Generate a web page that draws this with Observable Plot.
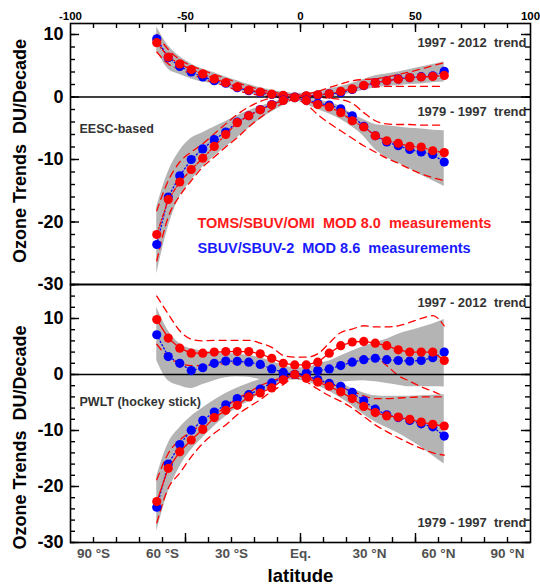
<!DOCTYPE html>
<html><head><meta charset="utf-8">
<script src="https://cdn.jsdelivr.net/npm/d3@7"></script>
<script src="https://cdn.jsdelivr.net/npm/@observablehq/plot@0.6"></script>
<style>
body{margin:0;background:#fff;}
#wrap{position:relative;width:540px;height:585px;}
#wrap svg{position:absolute;left:0;top:0;}
</style></head><body><div id="wrap"></div>
<script>
// ---------- data ----------
const lat = [-62.5,-57.5,-52.5,-47.5,-42.5,-37.5,-32.5,-27.5,-22.5,-17.5,-12.5,-7.5,-2.5,2.5,7.5,12.5,17.5,22.5,27.5,32.5,37.5,42.5,47.5,52.5,57.5,62.5];

// EESC-based panel, 1997-2012 trend
const eescPosToms   = [8.7,6.4,5.3,4.4,3.7,2.9,2.3,1.6,1.1,0.8,0.45,0.25,0.0,0.2,0.35,0.5,0.9,1.3,1.85,2.3,2.6,2.85,3.1,3.2,3.3,3.45];
const eescPosSbuv   = [9.3,6.3,4.9,4.0,3.2,2.6,2.2,1.5,1.0,0.7,0.4,0.2,0.0,0.15,0.3,0.5,0.7,1.2,1.8,2.3,2.6,2.9,3.1,3.25,3.4,4.1];
const eescPosRedHi  = [10.0,7.6,6.0,5.0,4.3,3.6,3.0,2.3,1.7,1.2,0.8,0.5,0.3,0.5,0.9,1.5,2.1,2.6,2.8,2.9,3.2,3.6,4.0,4.5,5.0,5.5];
const eescPosRedLo  = [7.2,5.3,4.4,3.7,2.9,2.3,1.8,1.0,0.6,0.25,0.0,-0.2,-0.3,-0.2,-0.1,0.1,0.5,1.2,1.5,1.6,1.7,1.7,1.7,1.7,1.7,1.7];
const eescPosGrayHi = [11.2,8.2,6.5,5.3,4.5,3.9,3.2,2.6,2.0,1.5,1.1,0.8,0.6,0.6,0.9,1.3,1.7,2.2,2.8,3.4,3.7,4.0,4.4,4.8,5.2,5.6];
const eescPosGrayLo = [7.4,4.5,3.6,2.9,2.4,2.1,1.6,1.0,0.6,0.2,0.0,-0.2,-0.4,-0.5,-0.3,0.0,0.3,0.6,1.1,1.5,1.7,1.8,2.0,2.1,2.3,2.4];
// EESC-based panel, 1979-1997 trend
const eescNegToms   = [-22.0,-16.4,-13.6,-11.6,-9.8,-7.9,-6.0,-4.1,-3.0,-2.05,-1.25,-0.55,-0.1,-0.55,-1.2,-1.6,-2.5,-3.8,-4.8,-6.2,-7.0,-7.4,-7.9,-8.0,-8.6,-8.9];
const eescNegSbuv   = [-23.6,-16.0,-12.6,-10.0,-8.3,-6.8,-5.6,-4.0,-3.0,-2.0,-1.2,-0.5,-0.1,-0.5,-1.0,-1.3,-1.9,-3.0,-4.7,-6.2,-7.2,-7.8,-8.4,-8.8,-9.2,-10.4];
const eescNegRedHi  = [-18.2,-13.4,-10.4,-8.8,-7.5,-5.9,-4.3,-2.8,-1.6,-0.7,-0.1,0.3,0.4,0.2,0.0,-0.2,-0.4,-1.0,-2.5,-3.8,-4.3,-4.4,-4.4,-4.5,-4.5,-4.5];
const eescNegRedLo  = [-26.2,-19.2,-15.8,-13.4,-11.2,-9.6,-8.0,-6.5,-4.8,-3.3,-2.0,-1.0,-0.4,-1.2,-2.8,-4.2,-5.4,-6.6,-7.8,-8.8,-9.8,-10.6,-11.5,-12.3,-12.9,-13.4];
const eescNegGrayHi = [-17.6,-12.0,-8.6,-6.6,-5.7,-4.8,-3.9,-3.0,-2.2,-1.5,-0.9,-0.3,0.6,0.3,-0.4,-0.9,-1.5,-2.7,-3.6,-4.4,-4.6,-4.8,-5.0,-5.1,-5.3,-5.4];
const eescNegGrayLo = [-28.3,-20.8,-16.0,-13.4,-11.2,-9.5,-8.0,-6.5,-5.0,-3.6,-2.4,-1.4,-0.6,-1.2,-2.0,-2.7,-3.6,-4.8,-6.3,-8.4,-9.7,-10.6,-11.5,-12.5,-13.4,-14.3];

// PWLT panel, 1997-2012 trend
const pwltPosToms   = [9.8,6.5,4.7,3.8,3.8,4.0,4.1,4.1,4.1,3.7,2.9,2.0,1.7,1.7,2.2,3.8,5.15,5.8,5.9,5.6,5.15,4.4,4.0,4.0,4.0,2.5];
const pwltPosSbuv   = [7.1,3.2,2.0,0.7,1.2,2.0,2.4,2.35,2.2,1.8,1.0,0.4,0.0,0.25,0.7,1.0,1.6,2.2,2.65,2.9,2.65,2.5,2.4,2.5,3.0,4.0];
const pwltPosRedHi  = [14.0,10.8,7.8,6.3,6.0,6.1,6.1,6.1,6.1,5.6,4.85,3.4,3.1,3.1,3.7,5.6,7.5,8.1,8.7,8.5,8.5,8.7,9.3,10.0,10.5,8.7];
const pwltPosRedLo  = [5.4,3.1,2.0,1.6,1.6,1.9,1.9,2.1,2.0,1.4,0.6,0.0,-0.3,-0.3,0.0,1.0,2.0,2.6,3.0,3.0,1.6,-0.2,-1.2,-2.2,-3.0,-4.0];
const pwltPosGrayHi = [12.0,7.8,5.5,4.6,4.2,4.0,3.8,3.6,3.4,3.0,2.3,1.6,1.2,1.2,1.9,2.4,3.3,4.2,5.0,5.7,6.3,7.2,7.8,8.4,9.0,9.8];
const pwltPosGrayLo = [2.5,-1.1,-2.0,-2.5,-1.8,-1.1,-0.6,-0.4,-0.5,-0.9,-1.1,-1.1,-1.0,-1.2,-1.4,-1.6,-1.4,-1.2,-1.1,-1.3,-1.6,-1.9,-2.2,-2.2,-2.2,-2.25];
// PWLT panel, 1979-1997 trend
const pwltNegToms   = [-22.7,-16.75,-13.8,-11.7,-9.8,-7.7,-6.4,-5.5,-4.0,-3.3,-2.4,-0.95,0.0,-0.65,-1.35,-2.1,-3.1,-4.3,-5.7,-6.8,-7.4,-7.6,-8.0,-8.5,-8.9,-9.2];
const pwltNegSbuv   = [-23.7,-16.0,-12.5,-9.95,-8.2,-6.7,-5.4,-4.3,-3.6,-2.6,-1.5,-0.6,0.0,-0.2,-0.9,-1.6,-2.1,-3.2,-4.7,-6.2,-7.2,-7.7,-8.2,-8.8,-9.35,-11.0];
const pwltNegRedHi  = [-18.8,-14.1,-11.7,-10.2,-8.8,-7.2,-5.8,-4.3,-3.2,-2.0,-1.2,-0.5,0.2,-0.3,-1.0,-1.6,-2.3,-3.0,-3.8,-4.3,-4.3,-4.2,-4.1,-4.0,-4.0,-4.0];
const pwltNegRedLo  = [-26.5,-20.3,-17.6,-14.7,-12.3,-10.5,-9.0,-7.2,-5.8,-4.5,-3.0,-1.8,-0.6,-1.3,-2.6,-3.8,-4.8,-6.0,-7.5,-9.0,-10.2,-11.3,-12.3,-13.2,-14.0,-14.4];
const pwltNegGrayHi = [-18.2,-12.3,-9.5,-7.5,-6.0,-4.6,-3.4,-2.4,-1.6,-0.9,-0.4,0.1,0.5,0.2,-0.3,-0.8,-1.5,-2.5,-3.3,-3.8,-3.9,-3.9,-3.9,-3.8,-3.7,-3.6];
const pwltNegGrayLo = [-28.0,-21.0,-16.5,-13.5,-11.3,-9.3,-7.5,-6.0,-4.8,-3.5,-2.3,-1.3,-0.5,-1.2,-2.0,-3.0,-4.2,-5.6,-7.2,-8.5,-9.5,-10.5,-11.7,-13.0,-14.5,-16.0];

// axes
const topTicks = [-100,-50,0,50,100];
const latTicks = [-90,-60,-30,0,30,60,90];
const latTickLabels = ["90 °S","60 °S","30 °S","Eq.","30 °N","60 °N","90 °N"];
const yTicks = [-30,-20,-10,0,10];

// texts
const yTitle = "Ozone Trends  DU/Decade";
const xTitle = "latitude";
const trendRecent = "1997 - 2012  trend";
const trendEarly = "1979 - 1997  trend";
const panelNames = ["EESC-based", "PWLT (hockey stick)"];
const legendToms = "TOMS/SBUV/OMI  MOD 8.0  measurements";
const legendSbuv = "SBUV/SBUV-2  MOD 8.6  measurements";

// ---------- drawing ----------
const FONT = "'Liberation Sans', Arial, Helvetica, sans-serif";
const RED = "#ff0000", BLUE = "#0000ff", GRAY = "#b4b4b4";
const W = 540, H = 585;
const ML = 70, MR = 10, FW = W - ML - MR;
const X_DOMAIN = [-100, 100];

function rows(toms, sbuv, rhi, rlo, ghi, glo) {
  return lat.map((l, i) => ({lat: l, toms: toms[i], sbuv: sbuv[i], rhi: rhi[i], rlo: rlo[i], ghi: ghi[i], glo: glo[i]}));
}

function seriesMarks(data) {
  return [
    Plot.areaY(data, {x: "lat", y1: "glo", y2: "ghi", fill: GRAY, curve: "monotone-x"}),
    Plot.line(data, {x: "lat", y: "rhi", stroke: RED, strokeWidth: 1.3, strokeDasharray: "7,5", curve: "monotone-x"}),
    Plot.line(data, {x: "lat", y: "rlo", stroke: RED, strokeWidth: 1.3, strokeDasharray: "7,5", curve: "monotone-x"})
  ];
}
function pointMarks(data, redDash) {
  return [
    Plot.line(data, {x: "lat", y: "sbuv", stroke: BLUE, strokeWidth: 1.3, strokeDasharray: "1.2,2.5"}),
    Plot.dot(data, {x: "lat", y: "sbuv", r: 4.6, fill: BLUE}),
    Plot.line(data, {x: "lat", y: "toms", stroke: RED, strokeWidth: 1.3, strokeDasharray: redDash}),
    Plot.dot(data, {x: "lat", y: "toms", r: 4.6, fill: RED})
  ];
}

function frameAxes(yDomain, isTop, FH) {
  const yMin = Math.ceil(yDomain[0]/2)*2, yMax = Math.floor(yDomain[1]/2)*2;
  const yMinor = d3.range(yMin, yMax + 0.1, 2);
  const yMajor = yTicks.filter(t => t >= yDomain[0] && t <= yDomain[1]);
  const xMinor = d3.range(-90, 90.1, 10);
  const xMajor = [-50, 0, 50];
  // tick lengths expressed in scale units (pixels -> data units)
  const ux = (X_DOMAIN[1] - X_DOMAIN[0]) / FW;
  const uy = (yDomain[1] - yDomain[0]) / FH;
  const tk = {stroke: "black", strokeWidth: 1.4};
  const [x0, x1] = X_DOMAIN;
  const yEdge = isTop ? yDomain[1] : yDomain[0];
  const ySign = isTop ? -1 : 1;
  const m = [
    Plot.ruleY([0], {stroke: "black", strokeWidth: 1.5}),
    // inward ticks on all four sides
    Plot.ruleY(yMinor, {y: d => d, x1: x0, x2: x0 + 5 * ux, ...tk}),
    Plot.ruleY(yMajor, {y: d => d, x1: x0, x2: x0 + 9 * ux, ...tk}),
    Plot.ruleY(yMinor, {y: d => d, x1: x1 - 5 * ux, x2: x1, ...tk}),
    Plot.ruleY(yMajor, {y: d => d, x1: x1 - 9 * ux, x2: x1, ...tk}),
    Plot.ruleX(xMinor, {x: d => d, y1: yEdge, y2: yEdge + ySign * 5 * uy, ...tk}),
    Plot.ruleX(xMajor, {x: d => d, y1: yEdge, y2: yEdge + ySign * 9 * uy, ...tk}),
    Plot.frame({stroke: "black", strokeWidth: 1.6}),
    Plot.axisY(yMajor, {label: null, anchor: "left", tickSize: 0, tickPadding: 7, fontSize: 18, fontWeight: "bold", fill: "black", stroke: "none",
      tickFormat: d => `${d}`})
  ];
  if (isTop) {
    m.push(Plot.axisX(topTicks, {label: null, anchor: "top", tickSize: 0, tickPadding: 4, fontSize: 11.5, fontWeight: "bold", fill: "black", stroke: "none",
      tickFormat: d => `${d}`}));
  } else {
    m.push(Plot.axisX(latTicks, {label: null, anchor: "bottom", tickSize: 0, tickPadding: 6, fontSize: 13.5, fontWeight: "bold", fill: "#505050", stroke: "none",
      tickFormat: d => latTickLabels[latTicks.indexOf(d)]}));
  }
  return m;
}

function txt(s, o) {
  return Plot.text([s], {text: d => d, fontFamily: FONT, fontWeight: "bold", ...o});
}

const svgStyle = `background: none; font-family: ${FONT}; white-space: pre; overflow: visible;`;

// Top panel: EESC
const topDomain = [-30, 11.76];
const p1 = Plot.plot({
  width: W, height: H,
  marginTop: 23, marginBottom: H - 284, marginLeft: ML, marginRight: MR,
  style: svgStyle,
  x: {domain: X_DOMAIN},
  y: {domain: topDomain},
  marks: [
    ...seriesMarks(rows(eescPosToms, eescPosSbuv, eescPosRedHi, eescPosRedLo, eescPosGrayHi, eescPosGrayLo)),
    ...seriesMarks(rows(eescNegToms, eescNegSbuv, eescNegRedHi, eescNegRedLo, eescNegGrayHi, eescNegGrayLo)),
    ...frameAxes(topDomain, true, 284 - 23),
    ...pointMarks(rows(eescPosToms, eescPosSbuv, eescPosRedHi, eescPosRedLo, eescPosGrayHi, eescPosGrayLo), "4,2,1.2,2"),
    ...pointMarks(rows(eescNegToms, eescNegSbuv, eescNegRedHi, eescNegRedLo, eescNegGrayHi, eescNegGrayLo), "4,2,1.2,2"),
    txt(trendRecent, {frameAnchor: "top-right", textAnchor: "end", dx: -4, dy: 14, fontSize: 13, fill: "#333"}),
    txt(trendEarly, {frameAnchor: "top-right", textAnchor: "end", dx: -4, dy: 83, fontSize: 13, fill: "#333"}),
    txt(panelNames[0], {frameAnchor: "top-left", textAnchor: "start", dx: 9, dy: 101, fontSize: 12.5, fill: "#333"}),
    txt(legendToms, {frameAnchor: "top-left", textAnchor: "start", dx: 127, dy: 194, fontSize: 14.5, fill: "#ff1a1a"}),
    txt(legendSbuv, {frameAnchor: "top-left", textAnchor: "start", dx: 127, dy: 219, fontSize: 14.5, fill: "#1a1aff"}),
    txt(yTitle, {frameAnchor: "left", textAnchor: "middle", lineAnchor: "middle", rotate: -90, dx: -50, dy: -3, fontSize: 18, fill: "black"})
  ]
});

// Bottom panel: PWLT
const botDomain = [-30, 16.07];
const p2 = Plot.plot({
  width: W, height: H,
  marginTop: 284, marginBottom: 43, marginLeft: ML, marginRight: MR,
  style: svgStyle,
  x: {domain: X_DOMAIN},
  y: {domain: botDomain},
  marks: [
    ...seriesMarks(rows(pwltPosToms, pwltPosSbuv, pwltPosRedHi, pwltPosRedLo, pwltPosGrayHi, pwltPosGrayLo)),
    ...seriesMarks(rows(pwltNegToms, pwltNegSbuv, pwltNegRedHi, pwltNegRedLo, pwltNegGrayHi, pwltNegGrayLo)),
    ...frameAxes(botDomain, false, (H - 43) - 284),
    ...pointMarks(rows(pwltPosToms, pwltPosSbuv, pwltPosRedHi, pwltPosRedLo, pwltPosGrayHi, pwltPosGrayLo), null),
    ...pointMarks(rows(pwltNegToms, pwltNegSbuv, pwltNegRedHi, pwltNegRedLo, pwltNegGrayHi, pwltNegGrayLo), null),
    txt(trendRecent, {frameAnchor: "top-right", textAnchor: "end", dx: -4, dy: 13, fontSize: 13, fill: "#333"}),
    txt(trendEarly, {frameAnchor: "bottom-right", textAnchor: "end", dx: -4, dy: -16, fontSize: 13, fill: "#333"}),
    txt(panelNames[1], {frameAnchor: "top-left", textAnchor: "start", dx: 9, dy: 113, fontSize: 12.5, fill: "#333"}),
    txt(yTitle, {frameAnchor: "left", textAnchor: "middle", lineAnchor: "middle", rotate: -90, dx: -50, dy: 24, fontSize: 18, fill: "black"}),
    txt(xTitle, {frameAnchor: "bottom", textAnchor: "middle", lineAnchor: "middle", dy: 34, fontSize: 18.5, fill: "black"})
  ]
});

const wrap = document.getElementById("wrap");
wrap.appendChild(p1);
wrap.appendChild(p2);
</script></body></html>
